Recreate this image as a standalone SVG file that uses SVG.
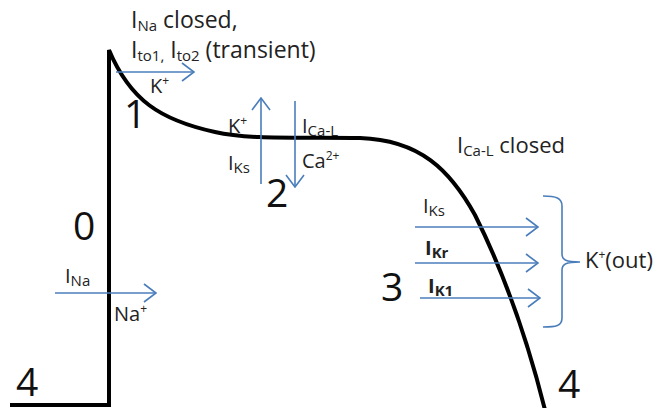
<svg xmlns="http://www.w3.org/2000/svg" width="664" height="408" viewBox="0 0 664 408">
<defs>
<style>
.t{font-family:"Open Sans","Liberation Sans",sans-serif;fill:#222;}
.m{font-size:20px;}
.s{font-size:15px;}
.p{font-size:12px;}
.blue{stroke:#4a7ebb;stroke-width:1.6;fill:none;}
.big{font-family:"Open Sans","Liberation Sans",sans-serif;font-size:39px;fill:#111;}
</style>
<marker id="ah" viewBox="0 0 14 20" refX="13" refY="10" markerWidth="14" markerHeight="20" markerUnits="userSpaceOnUse" orient="auto">
<path d="M1,1 L13,10 L1,19" fill="none" stroke="#4a7ebb" stroke-width="1.6"/>
</marker>
</defs>
<rect width="664" height="408" fill="#fff"/>
<g id="potential">
<path d="M10,405 L109,405 L109,50 C130,100 160,120 215,132 C250,140 300,137 360,138 C420,140 450,170 475,215 C500,265 525,330 545,410" fill="none" stroke="#000" stroke-width="4" stroke-linejoin="miter"/>
</g>
<g id="connectors">
<line class="blue" x1="116" y1="72" x2="194" y2="72" marker-end="url(#ah)"/>
<line class="blue" x1="261" y1="184" x2="261" y2="98" marker-end="url(#ah)"/>
<line class="blue" x1="295" y1="101" x2="295" y2="187" marker-end="url(#ah)"/>
<line class="blue" x1="55" y1="293" x2="156" y2="293" marker-end="url(#ah)"/>
<line class="blue" x1="415" y1="227" x2="538" y2="227" marker-end="url(#ah)"/>
<line class="blue" x1="415" y1="263" x2="538" y2="263" marker-end="url(#ah)"/>
<line class="blue" x1="420" y1="298" x2="540" y2="298" marker-end="url(#ah)"/>
<path class="blue" d="M543,196 C556,196 562,198 562,206 L562,254 C562,260 566,262 580,262 C566,262 562,264 562,270 L562,318 C562,326 556,327 543,327"/>
</g>
<g id="phase0"><text class="big" x="73" y="240">0</text></g>
<g id="phase1"><text class="big" x="124" y="128">1</text></g>
<g id="phase2"><text class="big" x="266" y="207">2</text></g>
<g id="phase3"><text class="big" x="381" y="301">3</text></g>
<g id="phase4a"><text class="big" x="16" y="396">4</text></g>
<g id="phase4b"><text class="big" x="558" y="398">4</text></g>
<g id="top-label">
<text class="t" x="131" y="28" font-size="23">I<tspan font-size="15" dy="3">Na</tspan><tspan dy="-3"> closed,</tspan></text>
<text class="t" x="131" y="58" font-size="23">I<tspan font-size="15" dy="3">to1,</tspan><tspan dy="-3"> I</tspan><tspan font-size="15" dy="3">to2</tspan><tspan dy="-3"> (transient)</tspan></text>
<text class="t m" x="150" y="93">K<tspan class="p" dy="-8">+</tspan></text>
</g>
<g id="phase2-labels">
<text class="t m" x="228" y="133">K<tspan class="p" dy="-8">+</tspan></text>
<text class="t m" x="228" y="170">I<tspan class="s" dy="3">Ks</tspan></text>
<text class="t m" x="302" y="133">I<tspan class="s" dy="3">Ca-L</tspan></text>
<text class="t m" x="302" y="168">Ca<tspan class="p" dy="-8">2+</tspan></text>
</g>
<g id="cal-closed">
<text class="t" x="457" y="153" font-size="22">I<tspan class="s" dy="3">Ca-L</tspan><tspan dy="-3"> closed</tspan></text>
</g>
<g id="ina">
<text class="t m" x="65" y="283">I<tspan class="s" dy="3">Na</tspan></text>
<text class="t m" x="114" y="321">Na<tspan class="p" dy="-8">+</tspan></text>
</g>
<g id="phase3-labels">
<text class="t m" x="423" y="213">I<tspan class="s" dy="3">Ks</tspan></text>
<text class="t m" x="425" y="255" font-weight="bold">I<tspan class="s" dy="3">Kr</tspan></text>
<text class="t m" x="428" y="293" font-weight="bold">I<tspan class="s" dy="3">K1</tspan></text>
<text class="t" x="585" y="268" font-size="22">K<tspan class="p" dy="-9">+</tspan><tspan dy="9">(out)</tspan></text>
</g>
</svg>
